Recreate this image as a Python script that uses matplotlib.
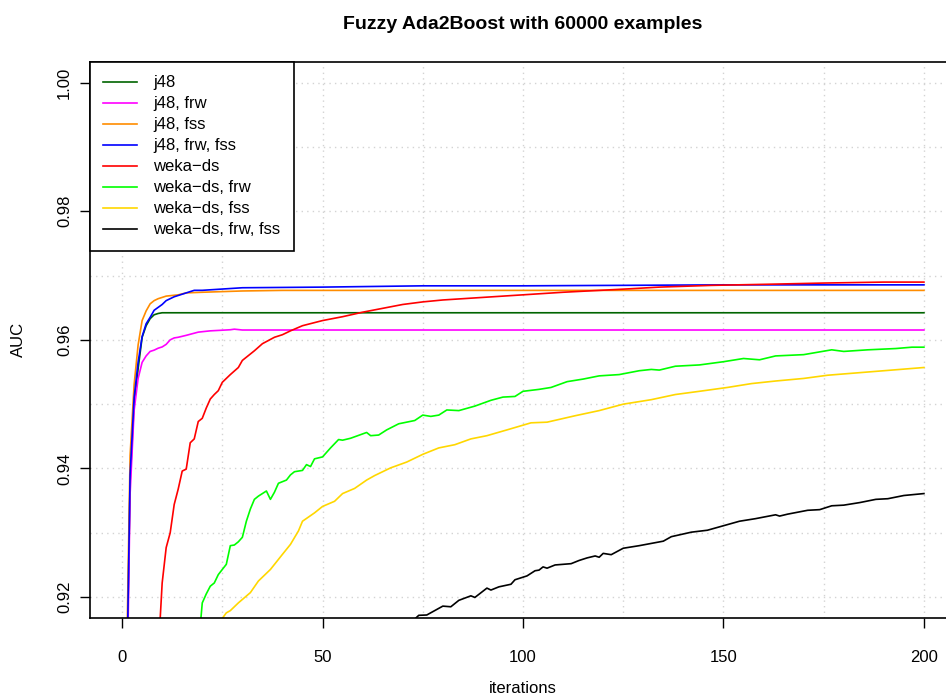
import numpy as np
import matplotlib
matplotlib.use("Agg")
import matplotlib.pyplot as plt

plt.rcParams["font.family"] = ["Liberation Sans", "DejaVu Sans"]

# AUC per boosting iteration, one series per configuration
j48_x = [1, 2, 3, 4, 5, 6, 7, 8, 9, 10, 200]
j48_y = [0.900, 0.938, 0.950, 0.9555, 0.9604, 0.9622, 0.9633, 0.9639, 0.9641, 0.96421, 0.96421]

j48_frw_x = [1, 2, 3, 4, 5, 6, 7, 8, 9, 10, 11, 12, 13, 14, 16, 19, 22, 25, 27, 28, 30, 200]
j48_frw_y = [0.895, 0.936, 0.949, 0.9540, 0.9565, 0.9575, 0.9582, 0.9584, 0.9587, 0.9589, 0.9593,
             0.9600, 0.9603, 0.9604, 0.9607, 0.9612, 0.9614, 0.9615, 0.96157, 0.96166, 0.96153, 0.96153]

j48_fss_x = [1, 2, 3, 4, 5, 6, 7, 8, 9, 11, 14, 16, 20, 25, 30, 40, 200]
j48_fss_y = [0.905, 0.942, 0.953, 0.9592, 0.9630, 0.9645, 0.9656, 0.9661, 0.9664, 0.9668, 0.9670,
             0.9673, 0.9674, 0.9675, 0.9676, 0.96769, 0.96769]

j48_frw_fss_x = [1, 2, 3, 4, 5, 6, 7, 8, 10, 11, 13, 15, 18, 20, 25, 30, 50, 75, 100, 150, 200]
j48_frw_fss_y = [0.900, 0.939, 0.951, 0.9565, 0.9605, 0.9625, 0.9635, 0.9646, 0.9655, 0.9661, 0.9667,
                 0.9671, 0.9677, 0.9677, 0.9679, 0.9681, 0.9682, 0.9684, 0.9684, 0.96855, 0.96855]

ds_x = [9, 10, 11, 12, 13, 14, 15, 16, 17, 18, 19, 20, 21, 22, 23, 24, 25, 27, 29, 30, 33, 35, 38,
        40, 42, 45, 50, 55, 60, 65, 70, 75, 80, 90, 100, 110, 119, 127, 134, 147, 160, 175, 190, 200]
ds_y = [0.911, 0.9222, 0.9277, 0.9300, 0.9344, 0.9368, 0.9396, 0.9399, 0.9440, 0.9446, 0.9473,
        0.9478, 0.9494, 0.9508, 0.9515, 0.9521, 0.9534, 0.9546, 0.9557, 0.9568, 0.9583, 0.9594,
        0.9604, 0.9608, 0.9614, 0.9622, 0.9630, 0.9636, 0.9643, 0.9649, 0.9655, 0.9659, 0.9662,
        0.9666, 0.9670, 0.9674, 0.96769, 0.96795, 0.9682, 0.96847, 0.96863, 0.96883, 0.96898, 0.96898]

ds_frw_x = [19, 20, 21, 22, 23, 24, 26, 27, 28, 29, 30, 31, 32, 33, 34, 36, 37, 38, 39, 41, 42, 43,
            45, 46, 47, 48, 50, 52, 54, 55, 57, 61, 62, 64, 66, 69, 73, 75, 77, 79, 81, 84, 88, 92,
            95, 98, 100, 104, 107, 111, 115, 119, 124, 129, 132, 134, 138, 144, 150, 155, 159, 163,
            170, 177, 180, 186, 193, 197, 200]
ds_frw_y = [0.912, 0.9191, 0.9205, 0.9217, 0.9222, 0.9235, 0.9251, 0.9280, 0.9281, 0.9286, 0.9293,
            0.9318, 0.9337, 0.9352, 0.9357, 0.9365, 0.9352, 0.9363, 0.9377, 0.9382, 0.9390, 0.9395,
            0.9397, 0.9406, 0.9403, 0.9415, 0.9418, 0.9432, 0.9445, 0.9444, 0.9447, 0.9456, 0.9451,
            0.9452, 0.9460, 0.94695, 0.94746, 0.9483, 0.9481, 0.9483, 0.9491, 0.9490, 0.9497, 0.9506,
            0.9511, 0.9512, 0.9520, 0.9523, 0.9526, 0.9535, 0.9539, 0.9544, 0.9546, 0.9552, 0.9554,
            0.9553, 0.9559, 0.9561, 0.9566, 0.9571, 0.9569, 0.9575, 0.9577, 0.95845, 0.9582, 0.95845,
            0.95865, 0.95886, 0.95886]

ds_fss_x = [24, 25, 26, 27, 29, 32, 34, 37, 40, 42, 44, 45, 48, 50, 53, 55, 58, 61, 63, 67, 71, 75,
            79, 83, 87, 91, 96, 102, 106, 113, 119, 125, 132, 138, 144, 151, 157, 163, 170, 176, 184,
            192, 200]
ds_fss_y = [0.914, 0.9167, 0.91755, 0.9179, 0.9191, 0.9207, 0.9225, 0.9243, 0.92665, 0.9282, 0.9303,
            0.9318, 0.9331, 0.9341, 0.9349, 0.9361, 0.9369, 0.9382, 0.9389, 0.9401, 0.9410, 0.9422,
            0.9432, 0.9437, 0.9446, 0.9451, 0.9460, 0.9471, 0.9472, 0.9482, 0.9490, 0.9500, 0.9507,
            0.9515, 0.9520, 0.9526, 0.9532, 0.9536, 0.9540, 0.9545, 0.9549, 0.9553, 0.9557]

ds_frw_fss_x = [72, 74, 76, 80, 82, 84, 87, 88, 91, 92, 94, 97, 98, 101, 103, 104, 105, 106, 108,
                112, 114, 116, 118, 119, 120, 122, 125, 129, 135, 137, 142, 146, 150, 154, 158, 163,
                164, 166, 171, 174, 177, 180, 184, 188, 191, 195, 200]
ds_frw_fss_y = [0.9160, 0.91717, 0.91722, 0.9186, 0.9185, 0.9195, 0.9202, 0.91995, 0.9214, 0.9211,
                0.9216, 0.9220, 0.9227, 0.9233, 0.9241, 0.9242, 0.9247, 0.9245, 0.9250, 0.9252,
                0.9257, 0.9261, 0.9264, 0.9262, 0.9268, 0.9266, 0.9276, 0.9280, 0.9287, 0.9294,
                0.9301, 0.9304, 0.9311, 0.9318, 0.9322, 0.9328, 0.9326, 0.9329, 0.9335, 0.9336,
                0.9342, 0.9343, 0.9347, 0.9352, 0.9353, 0.9358, 0.9361]

names = ["j48", "j48, frw", "j48, fss", "j48, frw, fss",
         "weka\u2212ds", "weka\u2212ds, frw", "weka\u2212ds, fss", "weka\u2212ds, frw, fss"]
colors = ["#006400", "#FF00FF", "#FF8C00", "#0000FF",
          "#FF0000", "#00FF00", "#FFD700", "#000000"]
series = [(j48_x, j48_y), (j48_frw_x, j48_frw_y), (j48_fss_x, j48_fss_y),
          (j48_frw_fss_x, j48_frw_fss_y), (ds_x, ds_y), (ds_frw_x, ds_frw_y),
          (ds_fss_x, ds_fss_y), (ds_frw_fss_x, ds_frw_fss_y)]

fig = plt.figure(figsize=(9.46, 7.0), dpi=100)
ax = fig.add_axes([90 / 946, 82.3 / 700, 866 / 946, 555.7 / 700])

# dotted grid like R's grid()
for gx in np.arange(0, 201, 25):
    ax.axvline(gx, color="#d3d3d3", lw=1, ls=(0, (1, 3)), zorder=0)
for gy in np.arange(0.92, 1.001, 0.01):
    ax.axhline(gy, color="#d3d3d3", lw=1, ls=(0, (1, 3)), zorder=0)

for (x, y), name, c in zip(series, names, colors):
    ax.plot(x, y, color=c, lw=1.2, label=name)

ax.set_xlim(-8, 208)
ax.set_ylim(0.9168, 1.0032)
ax.set_xticks([0, 50, 100, 150, 200])
ax.set_yticks([0.92, 0.94, 0.96, 0.98, 1.00])
ax.set_yticklabels(["0.92", "0.94", "0.96", "0.98", "1.00"], rotation=90, va="center")
ax.tick_params(direction="out", length=7, width=1, labelsize=12, pad=6)
ax.tick_params(axis="x", pad=16)
for s in ax.spines.values():
    s.set_linewidth(1.2)

ax.set_title("Fuzzy Ada2Boost with 60000 examples", fontsize=14, fontweight="bold", pad=24)
ax.set_xlabel("iterations", fontsize=12, labelpad=12)
ax.set_ylabel("AUC", fontsize=12, labelpad=22)

leg = ax.legend(loc="upper left", bbox_to_anchor=(0, 1), borderaxespad=0, fontsize=12,
                frameon=True, fancybox=False, framealpha=1, edgecolor="black",
                handlelength=2.0, handletextpad=1.0, labelspacing=0.36, borderpad=0.8)
leg.get_frame().set_linewidth(1.2)

fig.savefig("out.png", dpi=100)
